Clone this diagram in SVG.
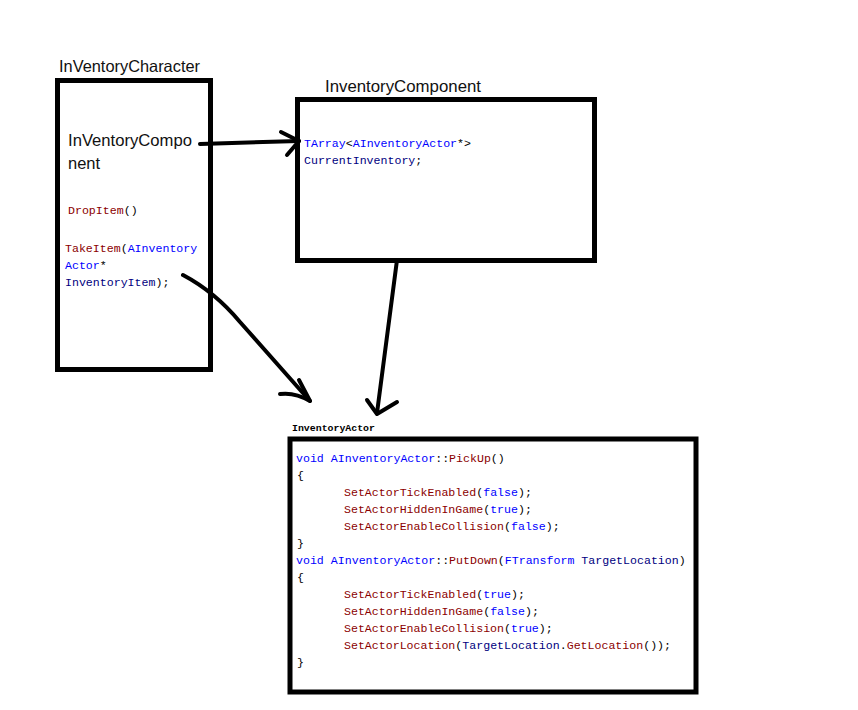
<svg xmlns="http://www.w3.org/2000/svg" width="858" height="710" viewBox="0 0 858 710">
<style>
.box{fill:none;stroke:#000;stroke-width:5}
.title{font-family:"Liberation Sans",Arial,sans-serif;font-size:16.5px;fill:#111}
.code{font-family:"Liberation Mono","Courier New",monospace;font-size:11.6px;fill:#000;white-space:pre}
.small{font-family:"Liberation Mono","Courier New",monospace;font-size:9.9px;fill:#000;font-weight:bold}
.fn{fill:#8B0000}
.kw{fill:#0000FF}
.id{fill:#000080}
.conn{fill:none;stroke:#000;stroke-width:4;stroke-linecap:round;stroke-linejoin:round}
</style>
<rect width="858" height="710" fill="#fff"/>

<g id="InVentoryCharacter">
  <text class="title" x="59" y="72" textLength="141" lengthAdjust="spacingAndGlyphs">InVentoryCharacter</text>
  <rect class="box" x="57.5" y="80.5" width="153" height="289"/>
  <text class="title" x="68" y="146" textLength="124" lengthAdjust="spacingAndGlyphs">InVentoryCompo</text>
  <text class="title" x="68" y="169">nent</text>
  <text class="code" x="68" y="214"><tspan class="fn">DropItem</tspan>()</text>
  <text class="code" x="65" y="252"><tspan class="fn">TakeItem</tspan>(<tspan class="kw">AInventory</tspan></text>
  <text class="code" x="65" y="269"><tspan class="kw">Actor</tspan>*</text>
  <text class="code" x="65" y="286"><tspan class="id">InventoryItem</tspan>);</text>
</g>

<g id="InventoryComponent">
  <text class="title" x="325" y="92" textLength="156" lengthAdjust="spacingAndGlyphs">InventoryComponent</text>
  <rect class="box" x="297.5" y="99.5" width="297" height="161"/>
  <text class="code" x="304" y="147"><tspan class="kw">TArray</tspan>&lt;<tspan class="kw">AInventoryActor</tspan>*&gt;</text>
  <text class="code" x="304" y="164"><tspan class="id">CurrentInventory</tspan>;</text>
</g>

<g id="InventoryActor">
  <text class="small" x="292" y="431">InventoryActor</text>
  <rect class="box" x="290" y="439" width="406" height="253"/>
  <text class="code" x="296" y="462"><tspan class="kw">void</tspan> <tspan class="kw">AInventoryActor</tspan>::<tspan class="fn">PickUp</tspan>()</text>
  <text class="code" x="297" y="479">{</text>
  <text class="code" x="344" y="496"><tspan class="fn">SetActorTickEnabled</tspan>(<tspan class="kw">false</tspan>);</text>
  <text class="code" x="344" y="513"><tspan class="fn">SetActorHiddenInGame</tspan>(<tspan class="kw">true</tspan>);</text>
  <text class="code" x="344" y="530"><tspan class="fn">SetActorEnableCollision</tspan>(<tspan class="kw">false</tspan>);</text>
  <text class="code" x="297" y="547">}</text>
  <text class="code" x="296" y="564"><tspan class="kw">void</tspan> <tspan class="kw">AInventoryActor</tspan>::<tspan class="fn">PutDown</tspan>(<tspan class="kw">FTransform</tspan> <tspan class="id">TargetLocation</tspan>)</text>
  <text class="code" x="297" y="581">{</text>
  <text class="code" x="344" y="598"><tspan class="fn">SetActorTickEnabled</tspan>(<tspan class="kw">true</tspan>);</text>
  <text class="code" x="344" y="615"><tspan class="fn">SetActorHiddenInGame</tspan>(<tspan class="kw">false</tspan>);</text>
  <text class="code" x="344" y="632"><tspan class="fn">SetActorEnableCollision</tspan>(<tspan class="kw">true</tspan>);</text>
  <text class="code" x="344" y="649"><tspan class="fn">SetActorLocation</tspan>(<tspan class="id">TargetLocation</tspan>.<tspan class="fn">GetLocation</tspan>());</text>
  <text class="code" x="297" y="666">}</text>
</g>

<g id="connectors">
  <path class="conn" d="M200,144 L299,141"/>
  <path class="conn" d="M281,132 L299,141 L287,155"/>
  <path class="conn" d="M397,260 L377,413"/>
  <path class="conn" d="M367,400 L377,414 L397,402"/>
  <path class="conn" d="M183,275 Q215,292 240,322 L310,401"/>
  <path class="conn" d="M299,380 L310,401 Q295,392 280,394"/>
</g>
</svg>
